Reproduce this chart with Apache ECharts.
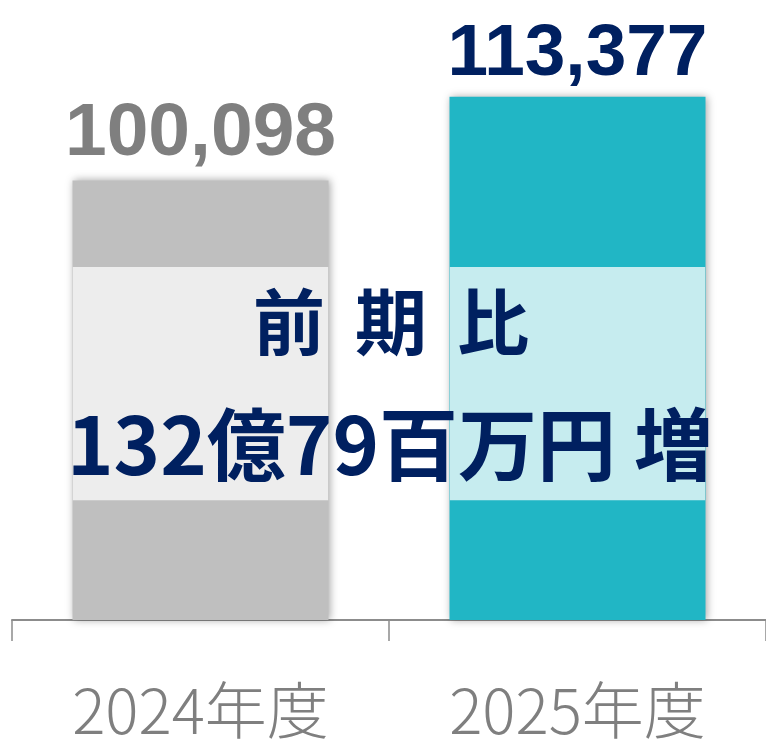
<!DOCTYPE html>
<html><head><meta charset="utf-8">
<script src="https://cdn.jsdelivr.net/npm/echarts@6/dist/echarts.min.js"></script>
<style>html,body{margin:0;padding:0;background:#fff}#c{width:766px;height:741px}</style>
</head><body><div id="c"></div>
<script>
const categories = ['2024年度', '2025年度'];
const values = [100098, 113377];
const barColors = ['#BFBFBF', '#21B6C5'];
const bandColors = ['#EDEDED', '#C6ECEF'];
const labelColors = ['#7F7F7F', '#002060'];
const bandRange = [49370, 86350];
const line1 = ['前', '期', '比'];
const line2 = '132億79百万円 増';

const chart = echarts.init(document.getElementById('c'));
chart.setOption({
  animation: false,
  grid: {left: 12, right: -2, top: 0, bottom: 119},
  xAxis: {
    type: 'category', data: categories,
    axisLine: {lineStyle: {color: '#8C8C8C', width: 2}},
    axisTick: {show: true, length: 21, lineStyle: {color: '#8C8C8C', width: 1.5}},
    axisLabel: {color: '#7F7F7F', fontSize: 62, fontFamily: 'Noto Sans CJK JP', fontWeight: 300, margin: 59}
  },
  yAxis: {type: 'value', min: 30400, max: 128700, show: false, splitLine: {show: false}},
  series: [{
    type: 'bar', barWidth: 256,
    data: values.map((v, i) => ({value: v, itemStyle: {color: barColors[i]},
      label: i === 0 ? {color: labelColors[i], fontSize: 75, distance: 9}
                     : {color: labelColors[i], fontSize: 73, distance: 5}})),
    itemStyle: {shadowBlur: 8, shadowColor: 'rgba(0,0,0,0.35)', shadowOffsetX: 1},
    label: {show: true, position: 'top', fontWeight: 'bold',
      fontFamily: 'Liberation Sans, Arial', formatter: p => p.value.toLocaleString('en-US')}
  }, {
    type: 'custom',
    data: categories.map((c, i) => [i, bandRange[0], bandRange[1]]),
    renderItem: (params, api) => {
      const i = api.value(0);
      const lo = api.coord([i, api.value(1)]);
      const hi = api.coord([i, api.value(2)]);
      const w = api.size([1, 0])[0] * 256 / 378;
      return {type: 'rect', shape: {x: lo[0] - w / 2, y: hi[1], width: w, height: lo[1] - hi[1]},
        style: {fill: bandColors[i]}};
    },
    z: 3
  }],
  graphic: [
    {type: 'text', z: 10,
      style: {x: 391, y: 286, align: 'center', verticalAlign: 'top',
        text: line1.map(c => '{a|' + c + '}').join('{s| }'), fill: '#002060',
        font: 'bold 72px "Noto Sans CJK JP"',
        rich: {a: {fontSize: 72, fontWeight: 'bold', fontFamily: 'Noto Sans CJK JP', fill: '#002060'},
               s: {width: 30, fontSize: 72}}}},
    {type: 'text', z: 10,
      style: {x: 390, y: 405, align: 'center', verticalAlign: 'top',
        text: line2, fill: '#002060', font: 'bold 79px "Noto Sans CJK JP"'}}
  ]
});
</script></body></html>
